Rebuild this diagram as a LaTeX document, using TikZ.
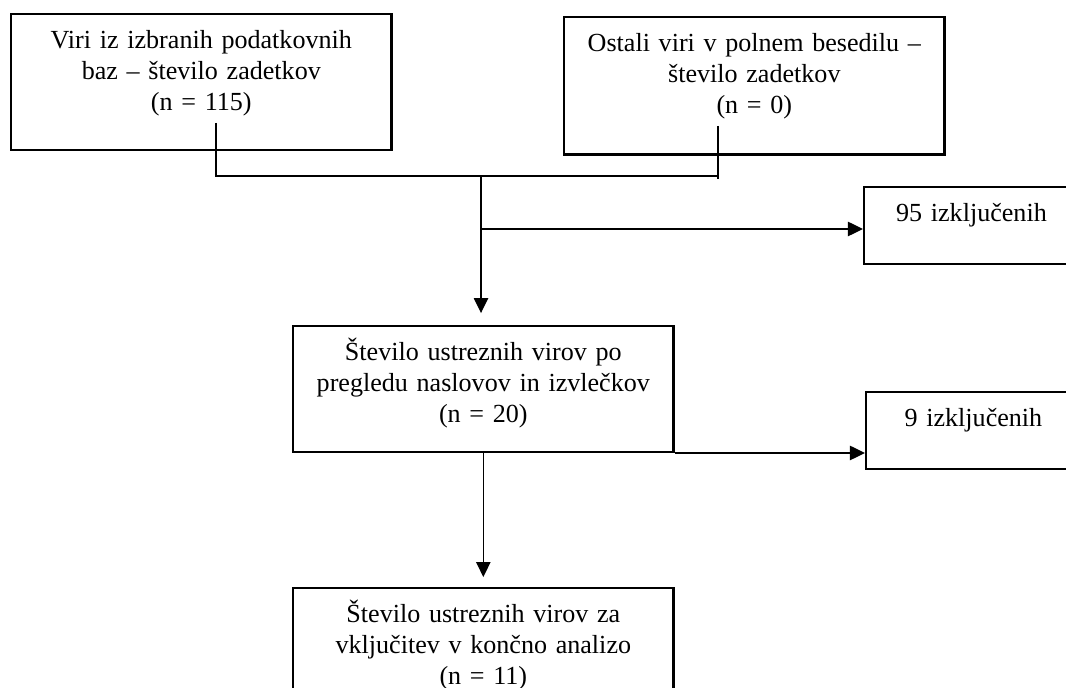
\documentclass[tikz,border=0pt]{standalone}
\usepackage{fontspec}
\setmainfont{Liberation Serif}
\usetikzlibrary{positioning, calc, arrows.meta}

\begin{document}
\begin{tikzpicture}[x=0.0159cm, y=-0.0159cm,
  box/.style={draw, line width=1.1pt, anchor=north west, align=center,
    text width=164pt, inner xsep=4pt, inner ysep=4.8pt,
    font=\fontsize{11.8}{14.2}\selectfont,
    execute at begin node={\rule{0pt}{10.5pt}}},
  exclbox/.style={box, text width=89pt, text depth=14.6pt},
  link/.style={line width=0.6pt},
  arrow/.style={link, -{Triangle[length=6.8pt, width=6.5pt]}}]
  \useasboundingbox (0,0) rectangle (1066,688);
  \clip (0,0) rectangle (1066,688);

  \node[box, text depth=41.4pt] (src1) at (10,13)
    {Viri iz izbranih podatkovnih\\baz – število zadetkov\\(n = 115)};
  \node[box, text depth=42.1pt] (src2) at (563,16)
    {Ostali viri v polnem besedilu –\\število zadetkov\\(n = 0)};
  \node[exclbox] (excl1) at (863,186) {95 izključenih};
  \node[box, text depth=36.7pt] (screen) at (292,325)
    {Število ustreznih virov po\\pregledu naslovov in izvlečkov\\(n = 20)};
  \node[exclbox] (excl2) at (865,391) {9 izključenih};
  \node[box, text depth=41.4pt] (final) at (292,587)
    {Število ustreznih virov za\\vključitev v končno analizo\\(n = 11)};

  \coordinate (src1 out) at (216,123);
  \coordinate (src2 out) at (718,126);
  \coordinate (src2 end) at (718,179);
  \coordinate (hub) at (481,176);
  \coordinate (fork) at (481,229);

  \draw[link] (src1 out) |- (src2 out |- hub);
  \draw[link] (src2 out) -- (src2 end);
  \draw[arrow, shorten >=5.4pt] (hub) -- (hub |- screen.north);
  \draw[arrow] (fork) -- (fork -| excl1.west);
  \draw[arrow] (screen.south east) -- (screen.south east -| excl2.west);
  \draw[arrow, shorten >=4.5pt] (screen.south) -- (final.north);
\end{tikzpicture}
\end{document}
